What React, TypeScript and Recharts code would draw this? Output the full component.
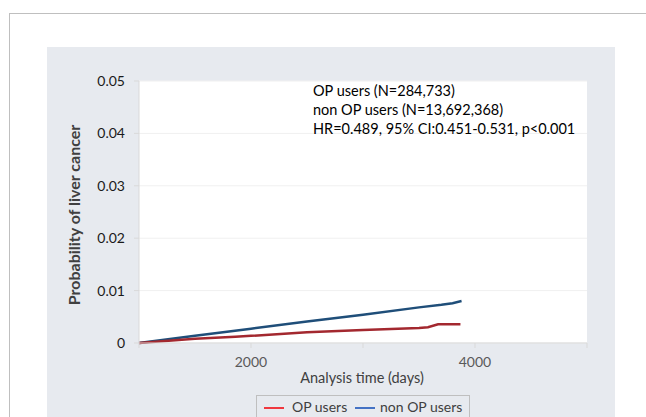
import React from 'react';
import { LineChart, Line, XAxis, YAxis, CartesianGrid } from 'recharts';

// Cumulative probability of liver cancer
const opDays = [1000, 1500, 1860, 2000, 2500, 3000, 3500, 3580, 3670, 3870];
const opProb = [0, 0.0008, 0.0012, 0.00137, 0.00204, 0.00248, 0.00286, 0.003, 0.00357, 0.00357];
const nonOpDays = [1000, 1500, 2000, 2500, 3000, 3500, 3700, 3800, 3880];
const nonOpProb = [0, 0.00137, 0.00273, 0.0041, 0.0054, 0.0068, 0.0073, 0.0076, 0.008];

const xTicks = [1000, 2000, 3000, 4000, 5000];
const xLabels = ['', '2000', '', '4000', ''];
const yTicks = [0, 0.01, 0.02, 0.03, 0.04, 0.05];

const seriesNames = ['OP users', 'non OP users'];
const noteLines = [
    'OP users (N=284,733)',
    'non OP users (N=13,692,368)',
    'HR=0.489, 95% CI:0.451-0.531, p<0.001',
];

const opData = opDays.map((d, i) => ({ day: d, prob: opProb[i] }));
const nonOpData = nonOpDays.map((d, i) => ({ day: d, prob: nonOpProb[i] }));

const font = 'Lato, "Open Sans", sans-serif';
const panelGray = '#E7EAEF';

export default function App() {
    return (
        <div style={{ position: 'absolute', left: 0, top: 0, width: 646, height: 417, background: '#fff', overflow: 'hidden', fontFamily: font }}>
            {/* outer frame */}
            <div style={{ position: 'absolute', left: 9, top: 13, width: 660, height: 420, border: '1px solid #BFBFBF' }} />
            {/* gray panel */}
            <div style={{ position: 'absolute', left: 47, top: 47, width: 568, height: 380, background: panelGray }} />

            <div style={{ position: 'absolute', left: 0, top: 0 }}>
                <LineChart width={646} height={417} margin={{ top: 81, right: 59, bottom: 44, left: 0 }}>
                    <CartesianGrid fill="#fff" stroke="#F0F0F0" vertical={false} horizontalValues={yTicks} />
                    <XAxis
                        type="number"
                        dataKey="day"
                        domain={[1000, 5000]}
                        ticks={xTicks}
                        tickFormatter={(v: number) => xLabels[xTicks.indexOf(v)] ?? ''}
                        stroke="#D9D9D9"
                        tickSize={5}
                        tickMargin={9}
                        height={30}
                        tick={{ fontFamily: font, fontSize: 14, fill: '#595959' }}
                        allowDuplicatedCategory={false}
                    />
                    <YAxis
                        type="number"
                        domain={[0, 0.05]}
                        ticks={yTicks}
                        tickFormatter={(v: number) => (v === 0 ? '0' : v.toFixed(2))}
                        stroke="#D9D9D9"
                        width={139}
                        tickSize={5}
                        tickMargin={9}
                        tick={{ fontFamily: font, fontSize: 14, fill: '#1a1a1a' }}
                    />
                    <Line
                        data={nonOpData}
                        dataKey="prob"
                        name={seriesNames[1]}
                        type="linear"
                        stroke="#1F4E79"
                        strokeWidth={2.5}
                        dot={false}
                        isAnimationActive={false}
                    />
                    <Line
                        data={opData}
                        dataKey="prob"
                        name={seriesNames[0]}
                        type="linear"
                        stroke="#A3282F"
                        strokeWidth={2.5}
                        dot={false}
                        isAnimationActive={false}
                    />
                </LineChart>
            </div>

            {/* annotation */}
            <div style={{ position: 'absolute', left: 313, top: 81, fontSize: 14.5, lineHeight: '19px', color: '#000', whiteSpace: 'nowrap' }}>
                {noteLines.map((t) => (
                    <div key={t}>{t}</div>
                ))}
            </div>

            {/* axis titles */}
            <div style={{ position: 'absolute', left: 73, top: 215, transform: 'translate(-50%, -50%) rotate(-90deg)', fontSize: 16, fontWeight: 700, color: '#404040', whiteSpace: 'nowrap' }}>
                Probability of liver cancer
            </div>
            <div style={{ position: 'absolute', left: 362, top: 377, transform: 'translate(-50%, -50%)', fontSize: 14.5, color: '#404040', whiteSpace: 'nowrap' }}>
                Analysis time (days)
            </div>

            {/* legend */}
            <div style={{ position: 'absolute', left: 256, top: 395, width: 212, height: 30, border: '1px solid #BFBFBF', background: panelGray }}>
                <div style={{ position: 'absolute', left: 7, top: 11, width: 20, height: 2, background: '#F0383F' }} />
                <div style={{ position: 'absolute', left: 35, top: 2, fontSize: 14, color: '#404040', whiteSpace: 'nowrap' }}>{seriesNames[0]}</div>
                <div style={{ position: 'absolute', left: 98, top: 11, width: 20, height: 2, background: '#4472C4' }} />
                <div style={{ position: 'absolute', left: 123, top: 2, fontSize: 14, color: '#404040', whiteSpace: 'nowrap' }}>{seriesNames[1]}</div>
            </div>
        </div>
    );
}
